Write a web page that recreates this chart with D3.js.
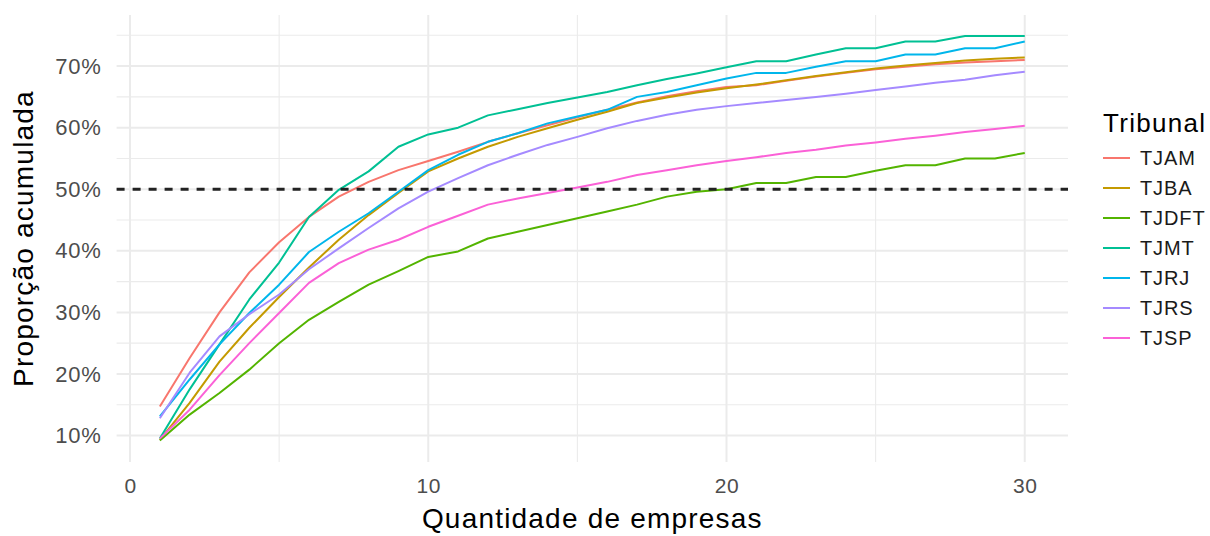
<!DOCTYPE html>
<html>
<head>
<meta charset="utf-8">
<script src="https://cdn.jsdelivr.net/npm/d3@7"></script>
<style>
  html, body { margin: 0; padding: 0; background: #ffffff; }
  svg { display: block; }
  text { font-family: "Liberation Sans", Arial, Helvetica, sans-serif; }
</style>
</head>
<body>
<svg id="chart" width="1210" height="536"></svg>
<script>
// ---------------- data ----------------
const empresas = [1,2,3,4,5,6,7,8,9,10,11,12,13,14,15,16,17,18,19,20,21,22,23,24,25,26,27,28,29,30];
const tribunais = ["TJAM","TJBA","TJDFT","TJMT","TJRJ","TJRS","TJSP"];
const tjam  = [14.7,22.6,30.0,36.5,41.4,45.5,48.8,51.2,53.1,54.6,56.1,57.7,59.1,60.4,61.7,62.9,64.1,65.1,65.9,66.6,66.9,67.6,68.3,68.9,69.5,69.9,70.3,70.6,70.8,71.0];
const tjba  = [9.3,15.3,22.0,27.5,32.5,37.3,41.8,45.8,49.4,52.9,55.0,56.9,58.5,59.9,61.3,62.6,64.0,64.9,65.7,66.4,67.0,67.7,68.4,69.0,69.6,70.1,70.5,70.9,71.2,71.4];
const tjdft = [9.2,13.4,16.9,20.7,25.0,28.8,31.7,34.5,36.7,39.0,39.9,42.0,43.1,44.2,45.3,46.4,47.5,48.8,49.6,50.0,51.0,51.0,52.0,52.0,53.0,53.9,53.9,55.0,55.0,55.9];
const tjmt  = [9.5,17.5,24.8,32.1,38.1,45.5,49.9,52.9,56.9,58.9,60.0,62.0,63.0,64.0,64.9,65.8,66.9,67.9,68.8,69.8,70.8,70.8,71.9,72.9,72.9,74.0,74.0,74.9,74.9,74.9];
const tjrj  = [13.1,19.1,24.8,29.9,34.5,39.8,43.1,46.1,49.6,53.1,55.6,57.7,59.1,60.7,61.8,62.9,65.0,65.8,66.9,68.0,68.9,68.9,69.9,70.8,70.8,71.9,71.9,72.9,72.9,74.0];
const tjrs  = [12.8,20.2,26.1,29.7,32.9,37.0,40.4,43.7,46.9,49.6,51.8,53.9,55.6,57.2,58.5,59.9,61.1,62.1,62.9,63.5,64.0,64.5,65.0,65.5,66.1,66.7,67.3,67.8,68.5,69.1];
const tjsp  = [9.5,14.2,19.8,25.0,29.9,34.8,38.0,40.2,41.8,43.9,45.7,47.5,48.5,49.4,50.3,51.2,52.3,53.1,53.9,54.6,55.2,55.9,56.4,57.1,57.6,58.2,58.7,59.3,59.8,60.3];
const serieValues = [tjam, tjba, tjdft, tjmt, tjrj, tjrs, tjsp];
const colors = ["#F8766D","#C49A00","#53B400","#00C094","#00B6EB","#A58AFF","#FB61D7"];
const xTicks = [0,10,20,30];
const xMinor = [5,15,25];
const yTicks = [10,20,30,40,50,60,70];
const yTickLabels = ["10%","20%","30%","40%","50%","60%","70%"];
const yMinor = [15,25,35,45,55,65,75];
const referencia = 50;
const xTitle = "Quantidade de empresas";
const yTitle = "Proporção acumulada";
const legendTitle = "Tribunal";

// ---------------- layout ----------------
const svg = d3.select("#chart");
const panel = { left: 116.6, right: 1068, top: 15, bottom: 462 };
const x = d3.scaleLinear().domain([-0.45, 31.45]).range([panel.left, panel.right]);
const y = d3.scaleLinear().domain([5.7, 78.3]).range([panel.bottom, panel.top]);

const grid = svg.append("g");
// minor grid
grid.selectAll(".vminor").data(xMinor).join("line")
  .attr("x1", d => x(d)).attr("x2", d => x(d))
  .attr("y1", panel.top).attr("y2", panel.bottom)
  .attr("stroke", "#EBEBEB").attr("stroke-width", 1.1);
grid.selectAll(".hminor").data(yMinor).join("line")
  .attr("x1", panel.left).attr("x2", panel.right)
  .attr("y1", d => y(d)).attr("y2", d => y(d))
  .attr("stroke", "#EBEBEB").attr("stroke-width", 1.1);
// major grid
grid.selectAll(".vmajor").data(xTicks).join("line")
  .attr("x1", d => x(d)).attr("x2", d => x(d))
  .attr("y1", panel.top).attr("y2", panel.bottom)
  .attr("stroke", "#EBEBEB").attr("stroke-width", 2);
grid.selectAll(".hmajor").data(yTicks).join("line")
  .attr("x1", panel.left).attr("x2", panel.right)
  .attr("y1", d => y(d)).attr("y2", d => y(d))
  .attr("stroke", "#EBEBEB").attr("stroke-width", 2);

// axes (tick labels only)
const xAxis = d3.axisBottom(x).tickValues(xTicks).tickSize(0).tickPadding(0).tickFormat(d3.format("d"));
const gx = svg.append("g").attr("transform", `translate(0, ${panel.bottom + 16})`).call(xAxis);
gx.select(".domain").remove();
gx.selectAll("text").attr("font-size", 21).attr("fill", "#4D4D4D").attr("letter-spacing", "0.6px")
  .attr("font-family", "Liberation Sans, Arial, sans-serif");

const yAxis = d3.axisLeft(y).tickValues(yTicks).tickSize(0).tickPadding(0)
  .tickFormat((d, i) => yTickLabels[i]);
const gy = svg.append("g").attr("transform", `translate(${panel.left - 15}, 0)`).call(yAxis);
gy.select(".domain").remove();
gy.selectAll("text").attr("font-size", 22).attr("fill", "#4D4D4D").attr("letter-spacing", "0.8px")
  .attr("font-family", "Liberation Sans, Arial, sans-serif");

// lines
const line = d3.line().x((d, i) => x(empresas[i])).y(d => y(d));
svg.append("g").selectAll("path").data(serieValues).join("path")
  .attr("d", d => line(d))
  .attr("fill", "none")
  .attr("stroke", (d, i) => colors[i])
  .attr("stroke-width", 2)
  .attr("stroke-linejoin", "round");

// reference dashed line
svg.append("line")
  .attr("x1", panel.left).attr("x2", panel.right)
  .attr("y1", y(referencia)).attr("y2", y(referencia))
  .attr("stroke", "#222222").attr("stroke-width", 3)
  .attr("stroke-dasharray", "8,8");

// axis titles
svg.append("text")
  .attr("x", (panel.left + panel.right) / 2).attr("y", 528)
  .attr("text-anchor", "middle").attr("font-size", 28).attr("letter-spacing", "1.2px")
  .attr("fill", "#000").text(xTitle);
svg.append("text")
  .attr("transform", `translate(33, ${(panel.top + panel.bottom) / 2}) rotate(-90)`)
  .attr("text-anchor", "middle").attr("font-size", 28).attr("letter-spacing", "1.2px")
  .attr("fill", "#000").text(yTitle);

// legend
const leg = svg.append("g");
leg.append("text").attr("x", 1103).attr("y", 132)
  .attr("font-size", 26).attr("letter-spacing", "1.3px").attr("fill", "#000").text(legendTitle);
const items = leg.selectAll(".item").data(tribunais).join("g")
  .attr("transform", (d, i) => `translate(1103, ${158 + i * 30})`);
items.append("line").attr("x1", 0).attr("x2", 27).attr("y1", 0).attr("y2", 0)
  .attr("stroke", (d, i) => colors[i]).attr("stroke-width", 2);
items.append("text").attr("x", 37).attr("y", 0).attr("dy", "0.36em")
  .attr("font-size", 20).attr("letter-spacing", "0.9px").attr("fill", "#1A1A1A").text(d => d);
</script>
</body>
</html>
